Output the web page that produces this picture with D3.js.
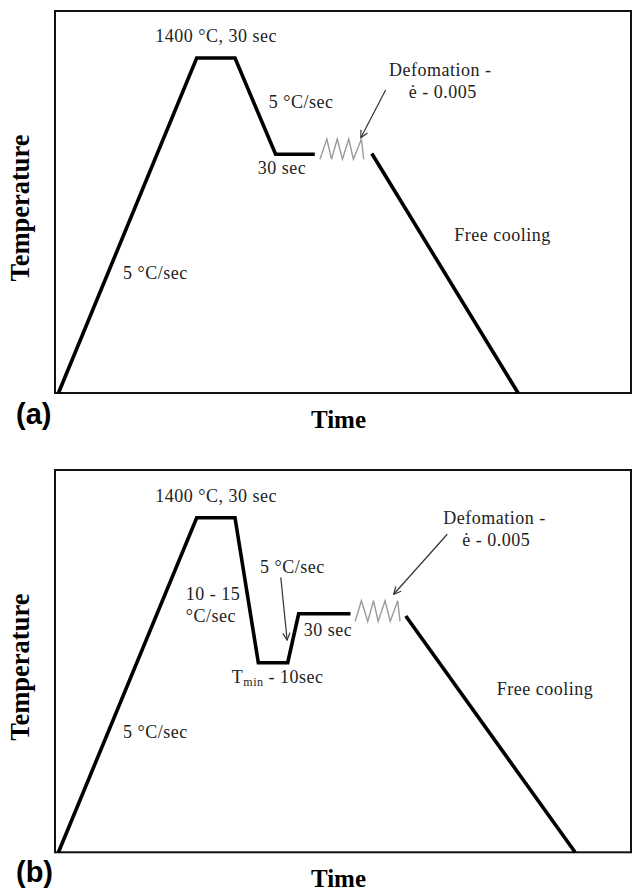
<!DOCTYPE html>
<html>
<head>
<meta charset="utf-8">
<script src="https://cdn.jsdelivr.net/npm/d3@7"></script>
<style>
  html, body { margin: 0; padding: 0; background: #fff; }
  svg { display: block; }
</style>
</head>
<body>
<svg id="chart" width="633" height="891"></svg>
<script>
// Thermal schedules, in relative time (0-100) and relative temperature (0-100).

// (a) heat, hold 1400 °C, cool at 5 °C/s, hold 30 s
const aHeatTime = [0.6, 24.6, 31.25, 38.3, 45.1];
const aHeatTemp = [0, 87.7, 87.7, 62.5, 62.5];
// (a) deformation step
const aDefTime = [46.0, 47.2, 48.0, 49.0, 49.9, 51.0, 51.8, 53.2, 53.6];
const aDefTemp = [61.2, 66.5, 61.2, 66.5, 61.2, 66.5, 61.2, 66.5, 61.2];
// (a) free cooling
const aCoolTime = [55.0, 80.4];
const aCoolTemp = [62.7, 0];

// (b) heat, hold 1400 °C, quench to Tmin, hold 10 s, reheat at 5 °C/s, hold 30 s
const bHeatTime = [0.6, 24.6, 31.25, 35.3, 40.4, 42.3, 51.3];
const bHeatTemp = [0, 87.5, 87.5, 49.6, 49.6, 62.4, 62.4];
const bDefTime = [52.1, 53.2, 54.3, 55.3, 56.1, 57.3, 58.2, 59.5, 59.9];
const bDefTemp = [60.4, 65.8, 60.4, 65.8, 60.4, 65.8, 60.4, 65.8, 60.4];
const bCoolTime = [60.9, 90.3];
const bCoolTemp = [61.8, 0];

const svg = d3.select("#chart");
const serif = "'Liberation Serif', 'Times New Roman', serif";
const sans = "'Liberation Sans', Arial, sans-serif";

// open arrowhead
svg.append("defs").append("marker")
  .attr("id", "head")
  .attr("viewBox", "0 0 10 10")
  .attr("refX", 9).attr("refY", 5)
  .attr("markerWidth", 9).attr("markerHeight", 9)
  .attr("markerUnits", "userSpaceOnUse")
  .attr("orient", "auto")
  .append("path")
  .attr("d", "M1,1 L9,5 L1,9")
  .attr("fill", "none")
  .attr("stroke", "#333")
  .attr("stroke-width", 1.3);

function zip(ts, vs) { return ts.map((t, i) => [t, vs[i]]); }

function drawPanel(cfg) {
  const x = d3.scaleLinear().domain([0, 100]).range([55, 631]);
  const y = d3.scaleLinear().domain([0, 100]).range([cfg.bottom, cfg.top]);
  const g = svg.append("g");
  const line = d3.line().x(d => x(d[0])).y(d => y(d[1]));

  // frame
  g.append("rect")
    .attr("x", x(0)).attr("y", y(100))
    .attr("width", x(100) - x(0)).attr("height", y(0) - y(100))
    .attr("fill", "none").attr("stroke", "#111").attr("stroke-width", 2);

  // schedule
  g.append("path").attr("d", line(zip(cfg.heatTime, cfg.heatTemp)))
    .attr("fill", "none").attr("stroke", "#000")
    .attr("stroke-width", 3.6).attr("stroke-linejoin", "miter");
  g.append("path").attr("d", line(zip(cfg.defTime, cfg.defTemp)))
    .attr("fill", "none").attr("stroke", "#9a9a9a")
    .attr("stroke-width", 1.4).attr("stroke-linejoin", "miter");
  g.append("path").attr("d", line(zip(cfg.coolTime, cfg.coolTemp)))
    .attr("fill", "none").attr("stroke", "#000")
    .attr("stroke-width", 3.6);

  // arrows
  cfg.arrows.forEach(a => {
    g.append("line")
      .attr("x1", x(a[0])).attr("y1", y(a[1]))
      .attr("x2", x(a[2])).attr("y2", y(a[3]))
      .attr("stroke", "#333").attr("stroke-width", 1.2)
      .attr("marker-end", "url(#head)");
  });

  // annotations
  cfg.labels.forEach(l => {
    const t = g.append("text")
      .attr("x", x(l.t)).attr("y", y(l.T))
      .attr("font-family", serif).attr("font-size", 18)
      .attr("letter-spacing", 0.5)
      .attr("fill", "#222");
    if (l.sub) {
      t.append("tspan").text(l.text);
      t.append("tspan").attr("font-size", 12).attr("dy", 3).text(l.sub);
      t.append("tspan").attr("dy", -3).text(l.rest);
    } else {
      t.text(l.text);
    }
  });

  // axis titles
  g.append("text")
    .attr("transform", `translate(29,${(y(0) + y(100)) / 2 + 6}) rotate(-90)`)
    .attr("text-anchor", "middle")
    .attr("font-family", serif).attr("font-weight", "bold").attr("font-size", 26.5)
    .attr("fill", "#000")
    .text("Temperature");
  g.append("text")
    .attr("x", 338.5).attr("y", cfg.timeY)
    .attr("text-anchor", "middle")
    .attr("font-family", serif).attr("font-weight", "bold").attr("font-size", 25)
    .attr("fill", "#000")
    .text("Time");
  g.append("text")
    .attr("x", 16).attr("y", cfg.tagY)
    .attr("font-family", sans).attr("font-weight", "bold").attr("font-size", 29)
    .attr("fill", "#000")
    .text(cfg.tag);
}

drawPanel({
  top: 11, bottom: 393, timeY: 428, tagY: 424, tag: "(a)",
  heatTime: aHeatTime, heatTemp: aHeatTemp,
  defTime: aDefTime, defTemp: aDefTemp,
  coolTime: aCoolTime, coolTemp: aCoolTemp,
  arrows: [[57.4, 79.3, 53.1, 66.8]],
  labels: [
    { t: 17.4, T: 91.9, text: "1400 °C, 30 sec" },
    { t: 37.1, T: 74.6, text: "5 °C/sec" },
    { t: 35.2, T: 57.3, text: "30 sec" },
    { t: 58.0, T: 83.0, text: "Defomation -" },
    { t: 61.4, T: 77.2, text: "ė - 0.005" },
    { t: 69.3, T: 39.8, text: "Free cooling" },
    { t: 11.8, T: 29.8, text: "5 °C/sec" }
  ]
});

drawPanel({
  top: 470, bottom: 852.3, timeY: 887, tagY: 882, tag: "(b)",
  heatTime: bHeatTime, heatTemp: bHeatTemp,
  defTime: bDefTime, defTemp: bDefTemp,
  coolTime: bCoolTime, coolTemp: bCoolTemp,
  arrows: [[68.1, 83.2, 58.8, 67.5], [39.2, 71.9, 40.3, 55.5]],
  labels: [
    { t: 17.4, T: 91.7, text: "1400 °C, 30 sec" },
    { t: 67.4, T: 85.9, text: "Defomation -" },
    { t: 70.7, T: 80.2, text: "ė - 0.005" },
    { t: 35.6, T: 73.0, text: "5 °C/sec" },
    { t: 22.7, T: 66.0, text: "10 - 15" },
    { t: 22.7, T: 60.2, text: "°C/sec" },
    { t: 43.2, T: 56.7, text: "30 sec" },
    { t: 30.7, T: 44.2, text: "T", sub: "min", rest: " - 10sec" },
    { t: 76.7, T: 41.1, text: "Free cooling" },
    { t: 11.8, T: 29.8, text: "5 °C/sec" }
  ]
});
</script>
</body>
</html>
